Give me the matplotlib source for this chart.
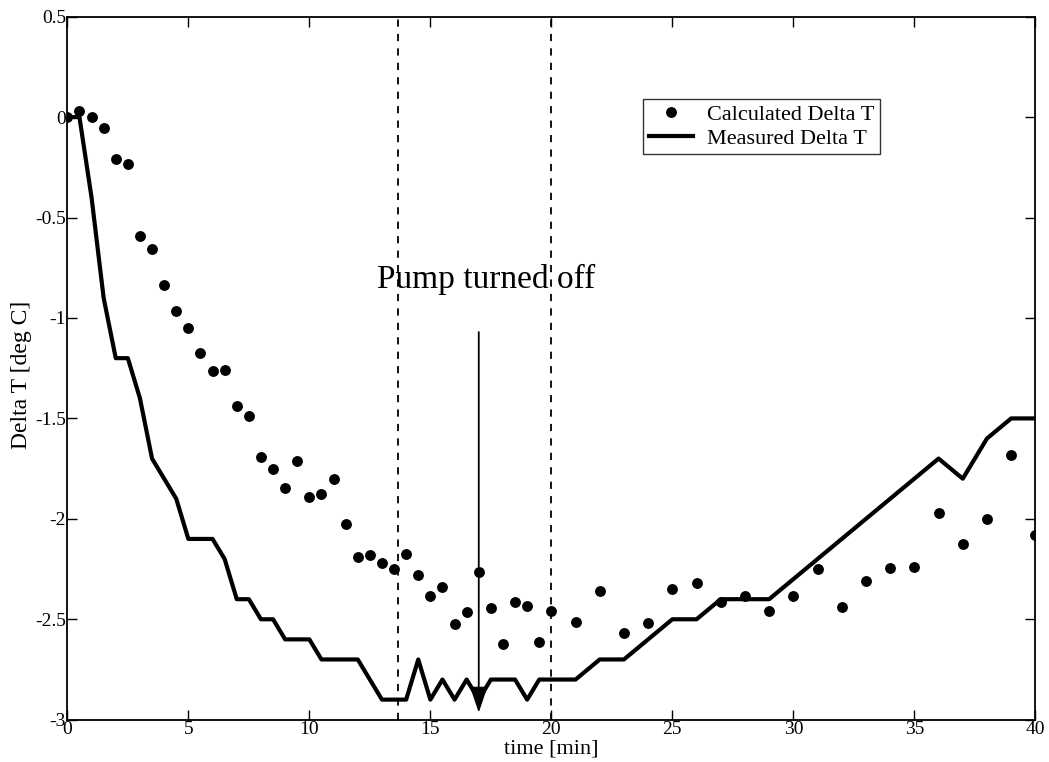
import matplotlib
matplotlib.use("Agg")
import matplotlib.pyplot as plt

plt.rcParams['font.family'] = ['Liberation Serif', 'DejaVu Serif']

# Calculated temperature difference (deg C) vs time (min)
calc_time = [0, 0.5, 1, 1.5, 2, 2.5, 3, 3.5, 4, 4.5, 5, 5.5, 6, 6.5, 7, 7.5, 8, 8.5,
             9, 9.5, 10, 10.5, 11, 11.5, 12, 12.5, 13, 13.5, 14, 14.5, 15, 15.5, 16,
             16.5, 17, 17.5, 18, 18.5, 19, 19.5, 20, 21, 22, 23, 24, 25, 26, 27, 28,
             29, 30, 31, 32, 33, 34, 35, 36, 37, 38, 39, 40]
calc_dT = [0.0, 0.03, 0.0, -0.056, -0.207, -0.235, -0.59, -0.657, -0.837, -0.963,
           -1.05, -1.176, -1.262, -1.257, -1.436, -1.486, -1.69, -1.751, -1.844,
           -1.713, -1.889, -1.877, -1.80, -2.028, -2.192, -2.179, -2.222, -2.249,
           -2.174, -2.28, -2.383, -2.338, -2.522, -2.464, -2.267, -2.444, -2.623,
           -2.416, -2.434, -2.613, -2.461, -2.514, -2.358, -2.567, -2.517, -2.348,
           -2.318, -2.413, -2.386, -2.459, -2.386, -2.25, -2.439, -2.308, -2.245,
           -2.239, -1.97, -2.124, -2.003, -1.682, -2.08]

# Measured temperature difference (deg C) vs time (min)
meas_time = [0, 0.5, 1, 1.5, 2, 2.5, 3, 3.5, 4, 4.5, 5, 6, 6.5, 7, 7.5, 8, 8.5, 9,
             10, 10.5, 12, 13, 14, 14.5, 15, 15.5, 16, 16.5, 17, 17.5, 18.5, 19,
             19.5, 21, 22, 23, 25, 26, 27, 29, 30, 31, 32, 33, 34, 35, 36, 37, 38,
             39, 40]
meas_dT = [0.0, 0.0, -0.4, -0.9, -1.2, -1.2, -1.4, -1.7, -1.8, -1.9, -2.1, -2.1,
           -2.2, -2.4, -2.4, -2.5, -2.5, -2.6, -2.6, -2.7, -2.7, -2.9, -2.9, -2.7,
           -2.9, -2.8, -2.9, -2.8, -2.9, -2.8, -2.8, -2.9, -2.8, -2.8, -2.7, -2.7,
           -2.5, -2.5, -2.4, -2.4, -2.3, -2.2, -2.1, -2.0, -1.9, -1.8, -1.7, -1.8,
           -1.6, -1.5, -1.5]

pump_window = [13.65, 20.0]
pump_off_time = 17.0

fig = plt.figure(figsize=(10.49, 7.62), dpi=100)
ax = fig.add_axes([0.0642, 0.0555, 0.9228, 0.9226])

ax.plot(calc_time, calc_dT, linestyle='none', marker='o', markersize=6.8,
        color='black', label='Calculated Delta T')
ax.plot(meas_time, meas_dT, color='black', linewidth=3.0,
        label='Measured Delta T')

for xv in pump_window:
    ax.axvline(xv, color='black', linewidth=1.3, linestyle=(0, (4, 4)))

ax.annotate('', xy=(pump_off_time, -2.965), xytext=(pump_off_time, -1.07),
            arrowprops=dict(arrowstyle='-|>,head_length=0.8,head_width=0.27',
                            mutation_scale=20, color='black', lw=1.3,
                            shrinkA=0, shrinkB=0))
ax.text(17.3, -0.85, 'Pump turned off', fontsize=24, ha='center',
        va='baseline')

ax.set_xlim(0, 40)
ax.set_ylim(-3, 0.5)
ax.set_xticks(range(0, 41, 5))
ax.set_yticks([-3, -2.5, -2, -1.5, -1, -0.5, 0, 0.5])
ax.set_yticklabels(['-3', '-2.5', '-2', '-1.5', '-1', '-0.5', '0', '0.5'])
ax.tick_params(direction='in', length=7, width=1, top=True, right=True,
               labelsize=14, pad=1)
for s in ax.spines.values():
    s.set_linewidth(1.3)

ax.set_xlabel('time [min]', fontsize=16, labelpad=1)
ax.set_ylabel('Delta T [deg C]', fontsize=17)
ax.yaxis.set_label_coords(-0.037, 0.49)

leg = ax.legend(loc='upper left', bbox_to_anchor=(0.595, 0.883), fontsize=16,
                frameon=True, fancybox=False, handlelength=2.0,
                borderpad=0.25, labelspacing=0.15, handletextpad=0.6,
                borderaxespad=0)
leg.get_frame().set_edgecolor('black')
leg.get_frame().set_linewidth(1.0)

fig.savefig('out.png', dpi=100)
